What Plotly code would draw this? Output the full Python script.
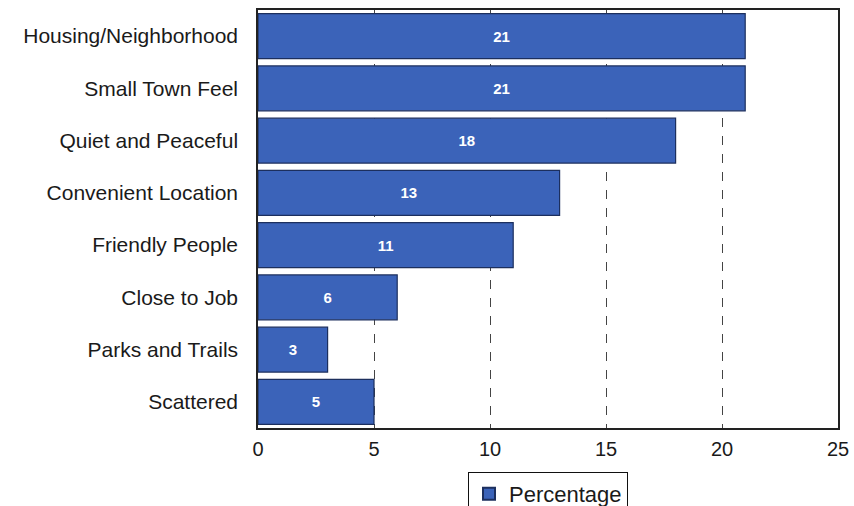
import plotly.graph_objects as go

categories = ["Housing/Neighborhood", "Small Town Feel", "Quiet and Peaceful",
              "Convenient Location", "Friendly People", "Close to Job",
              "Parks and Trails", "Scattered"]
percentages = [21, 21, 18, 13, 11, 6, 3, 5]
x_ticks = [0, 5, 10, 15, 20, 25]

fig = go.Figure()
fig.add_trace(go.Bar(
    y=categories,
    x=percentages,
    orientation="h",
    name="Percentage",
    marker=dict(color="#3b63b9", line=dict(color="#1c2f5e", width=1.2)),
    text=[str(v) for v in percentages],
    textposition="inside",
    insidetextanchor="middle",
    textangle=0,
    textfont=dict(family="Arial, Liberation Sans", size=15, color="white", weight="bold"),
    showlegend=True,
))

fig.update_layout(
    width=854, height=506,
    margin=dict(l=258, r=16, t=10, b=78, autoexpand=False),
    paper_bgcolor="white",
    plot_bgcolor="white",
    bargap=0.14,
    font=dict(family="Arial, Liberation Sans", size=20, color="#1a1a1a"),
    showlegend=True,
    legend=dict(
        orientation="h",
        x=0.5, xanchor="center",
        y=-0.105, yanchor="top",
        bordercolor="#111", borderwidth=1,
        font=dict(size=22),
        itemsizing="constant",
        itemwidth=30,
    ),
    xaxis=dict(
        range=[0, 25],
        tickvals=x_ticks,
        showgrid=True,
        gridcolor="#444",
        griddash="dash",
        gridwidth=0.8,
        zeroline=False,
        showline=True, linecolor="#222", linewidth=1.5, mirror=True,
        ticks="outside", ticklen=2, tickcolor="white",
        tickfont=dict(size=20),
    ),
    yaxis=dict(
        categoryorder="array",
        categoryarray=categories[::-1],
        showline=True, linecolor="#222", linewidth=1.5, mirror=True,
        ticks="outside", ticklen=14, tickcolor="white",
        tickfont=dict(size=21),
    ),
)

fig.write_html("out.html")
